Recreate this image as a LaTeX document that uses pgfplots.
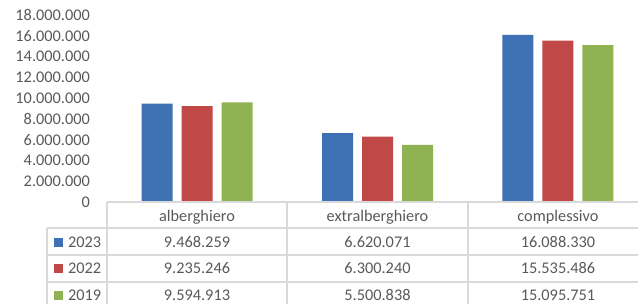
\documentclass[border=0pt]{standalone}
\usepackage{pgfplots}
\pgfplotsset{compat=1.18}
\usepackage{fontspec}
\setmainfont{Carlito}
\definecolor{cA}{RGB}{61,113,180}
\definecolor{cB}{RGB}{192,72,70}
\definecolor{cC}{RGB}{143,178,82}
\definecolor{gridc}{RGB}{217,217,217}
\definecolor{txt}{RGB}{89,89,89}
\begin{document}
\begin{tikzpicture}[x=1bp,y=1bp,font=\fontsize{16.3bp}{19bp}\selectfont]
\useasboundingbox (0,0) rectangle (638,304);
\begin{axis}[
  at={(107bp,102bp)}, anchor=south west,
  width=531bp, height=187bp, scale only axis,
  xmin=-0.5, xmax=2.4445, ymin=0, ymax=18000000,
  ybar, bar width=31bp,
  axis line style={draw=none},
  xtick=\empty,
  ytick={0,2000000,4000000,6000000,8000000,10000000,12000000,14000000,16000000,18000000},
  major tick length=0pt,
  scaled y ticks=false,
  yticklabel style={anchor=east, inner sep=0pt, xshift=-17bp, text=txt, font=\fontsize{16.3bp}{19bp}\selectfont},
  /pgf/number format/fixed,
  /pgf/number format/precision=0,
  /pgf/number format/1000 sep={.},
  /pgf/number format/assume math mode=true,
]
\addplot[fill=cA, draw=none, bar shift=-40bp] coordinates {(0,9468259) (1,6620071) (2,16088330)};
\addplot[fill=cB, draw=none, bar shift=0bp] coordinates {(0,9235246) (1,6300240) (2,15535486)};
\addplot[fill=cC, draw=none, bar shift=40bp] coordinates {(0,9594913) (1,5500838) (2,15095751)};
\end{axis}
% data table
\begin{scope}[gridc, line width=1.3bp]
\draw (107,102) -- (638,102);
\draw (47,76) -- (638,76);
\draw (47,49) -- (638,49);
\draw (47,22) -- (638,22);
\draw (107,102) -- (107,0);
\draw (47,76) -- (47,0);
\draw (287,102) -- (287,0);
\draw (468,102) -- (468,0);
\end{scope}
\begin{scope}[every node/.style={text=txt, inner sep=0pt, anchor=base}]
\node at (197,83) {alberghiero};
\node at (377.5,83) {extralberghiero};
\node at (558,83) {complessivo};
\node at (197,57) {9.468.259};
\node at (377.5,57) {6.620.071};
\node at (558,57) {16.088.330};
\node at (197,30.5) {9.235.246};
\node at (377.5,30.5) {6.300.240};
\node at (558,30.5) {15.535.486};
\node at (197,4) {9.594.913};
\node at (377.5,4) {5.500.838};
\node at (558,4) {15.095.751};
\node[anchor=base west] at (68,57) {2023};
\node[anchor=base west] at (68,30.5) {2022};
\node[anchor=base west] at (68,4) {2019};
\end{scope}
\fill[cA] (54,57.5) rectangle (63,66.5);
\fill[cB] (54,31) rectangle (63,40);
\fill[cC] (54,4.5) rectangle (63,13.5);
\end{tikzpicture}
\end{document}
